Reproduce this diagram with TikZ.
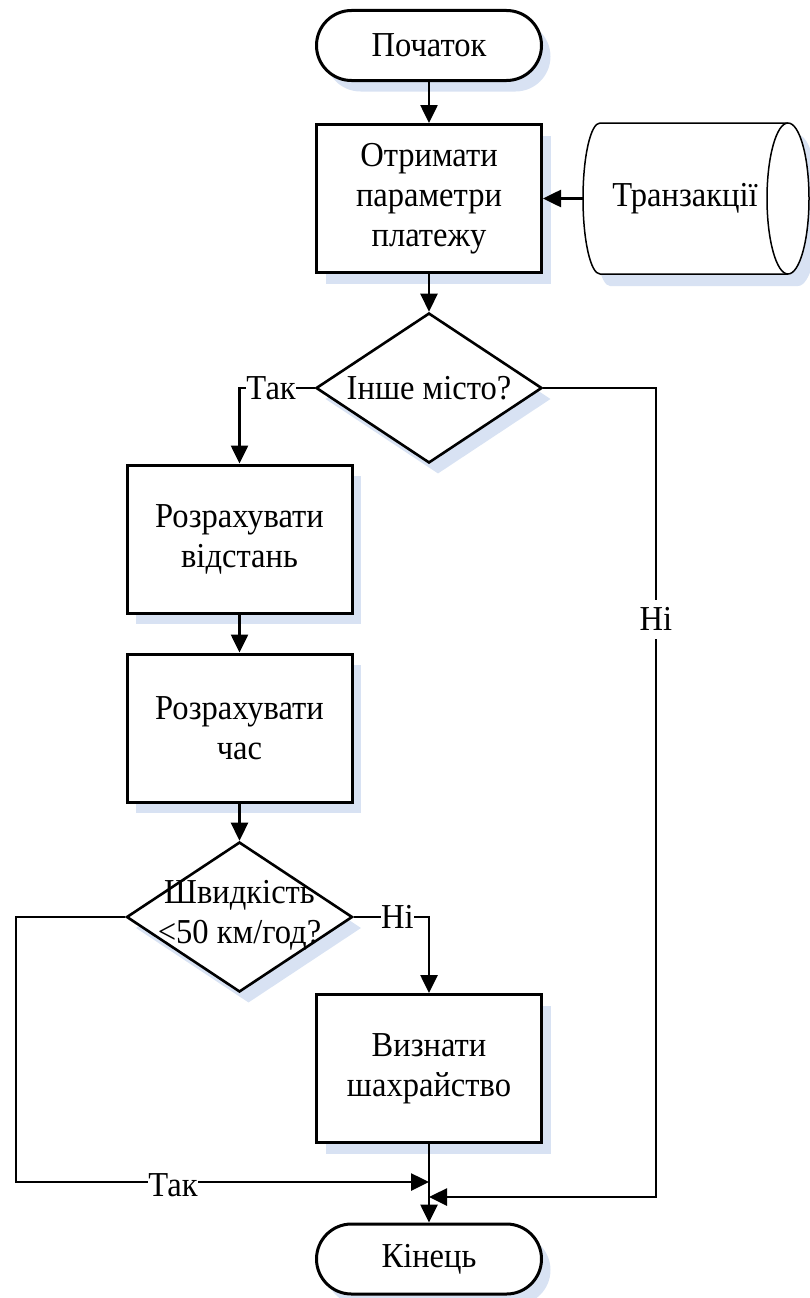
\documentclass[tikz,border=0pt]{standalone}
\usepackage{fontspec}
\setmainfont{Liberation Serif}[FakeStretch=0.93]
\usetikzlibrary{shapes.geometric,shadows,arrows.meta}
\definecolor{shadowblue}{RGB}{216,226,243}
\begin{document}
\begin{tikzpicture}[x=1pt,y=1pt,
  every node/.style={font=\fontsize{35}{40}\selectfont},
  conn/.style={line width=2.6pt, -{Triangle[length=18pt,width=17pt]}},
  softshadow/.style={drop shadow={shadow xshift=9pt, shadow yshift=-11pt, fill=shadowblue, opacity=1}},
  process/.style={rectangle, draw, line width=3pt, fill=white, minimum width=225pt,
    minimum height=148pt, align=center, inner sep=0pt, softshadow},
  terminal/.style={rectangle, rounded corners=35pt, draw, line width=3pt, fill=white,
    minimum width=225pt, minimum height=70pt, inner sep=0pt, softshadow},
  decision/.style={diamond, draw, line width=2.6pt, fill=white, minimum width=226pt,
    minimum height=150pt, inner sep=0pt, softshadow},
  caption/.style={align=center, inner sep=0pt},
  lbl/.style={fill=white, inner xsep=0.5pt, inner ysep=8pt},
  storeline/.style={line width=1.5pt}]

\useasboundingbox (0,0) rectangle (810,-1298);

% data store "Транзакції"
\fill[shadowblue, shift={(10,-12)}] (600,-123) -- (788,-123)
  arc[start angle=90, end angle=-90, x radius=21pt, y radius=75.5pt] -- (600,-274)
  arc[start angle=270, end angle=90, x radius=17pt, y radius=75.5pt] -- cycle;
\filldraw[storeline, fill=white] (600,-123) -- (788,-123)
  arc[start angle=90, end angle=-90, x radius=21pt, y radius=75.5pt] -- (600,-274)
  arc[start angle=270, end angle=90, x radius=17pt, y radius=75.5pt] -- cycle;
\draw[storeline] (788,-123) arc[start angle=90, end angle=270, x radius=21pt, y radius=75.5pt];
\node[caption] (store) at (685,-198.5) {Транзакції};
\coordinate (storeL) at (583,-198.5);

% flowchart blocks
\node[terminal] (start) at (429,-45.5) {Початок};
\node[process] (b1) at (429,-198.5) {Отримати\\параметри\\платежу};
\node[decision] (d1) at (429,-388) {};
\node[caption] (d1t) at (429,-388) {Інше місто?};
\node[process] (b2) at (239.5,-539) {Розрахувати\\відстань};
\node[process] (b3) at (239.5,-728) {Розрахувати\\час};
\node[decision] (d2) at (239.5,-917) {};
\node[caption] (d2t) at (239.5,-915) {Швидкість\\<50 км/год?};
\node[process] (b4) at (429,-1068.5) {Визнати\\шахрайство};
\node[terminal] (end) at (429,-1259) {Кінець};

% junction points above the end block
\coordinate (j1) at (429,-1182);
\coordinate (j2) at (429,-1197);
\coordinate (lc) at (16,-1182);
\coordinate (rc) at (656,-1197);

% connectors
\draw[conn] (start.south) -- (b1.north);
\draw[conn] (storeL) -- (b1.east);
\draw[conn] (b1.south) -- (d1.north);
\draw[conn] (d1.west) -| node[lbl, pos=0.29] {Так} (b2.north);
\draw[conn] (b2.south) -- (b3.north);
\draw[conn] (b3.south) -- (d2.north);
\draw[conn] (d2.east) -| node[lbl, pos=0.29] {Ні} (b4.north);
\draw[conn] (b4.south) -- (end.north);
\draw[conn] (d2.west) -| (lc) -- node[lbl, pos=0.38, yshift=-3pt] {Так} (j1);
\draw[conn] (d1.east) -| node[lbl, pos=0.643] {Ні} (rc) -- (j2);

\end{tikzpicture}
\end{document}
